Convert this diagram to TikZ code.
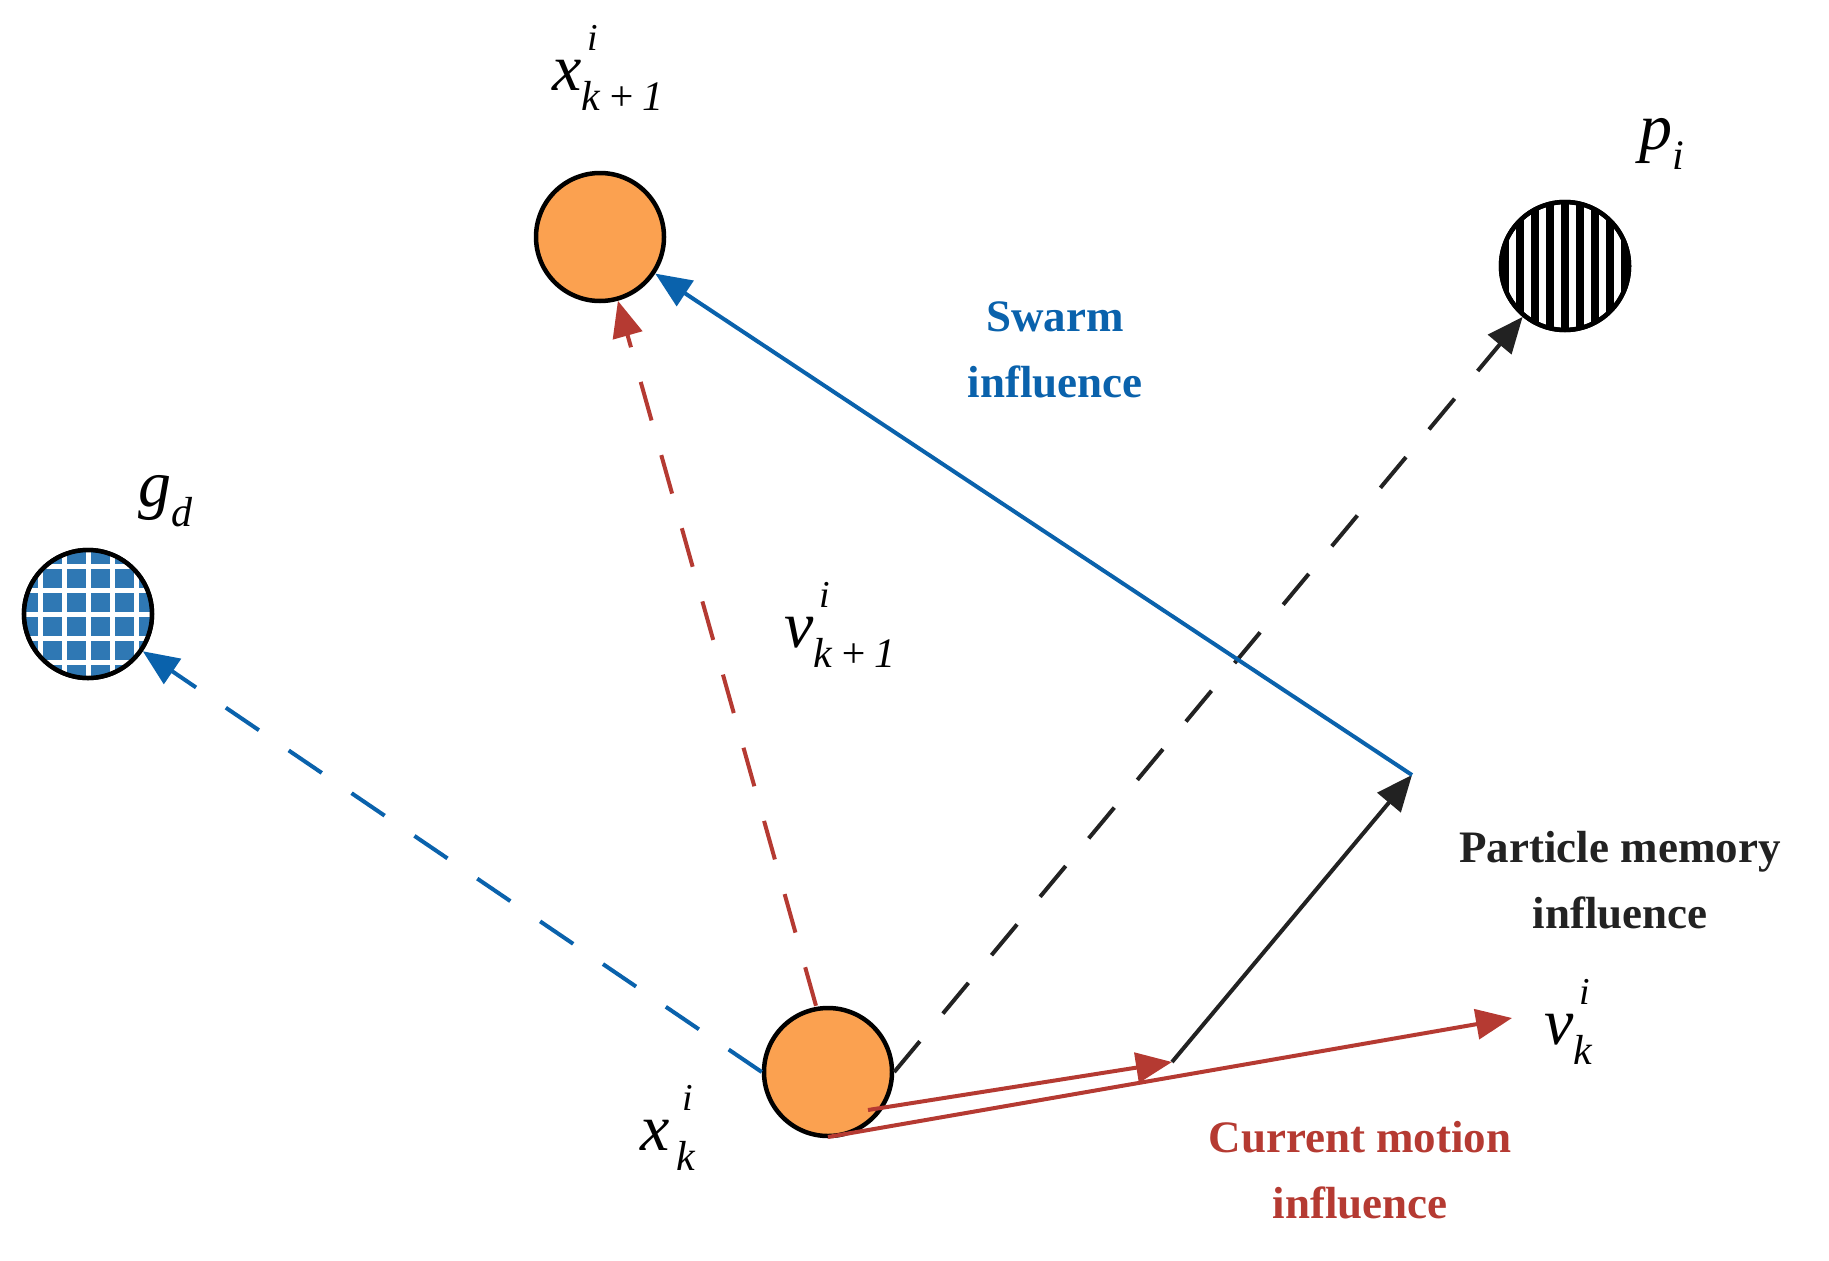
\documentclass[tikz,border=0pt]{standalone}
\usepackage{fontspec}
\setmainfont{Liberation Serif}
\usetikzlibrary{arrows.meta}
\definecolor{bl}{HTML}{0A62AC}
\definecolor{rd}{HTML}{B53A32}
\definecolor{dk}{HTML}{222222}
\definecolor{org}{HTML}{FBA150}
\definecolor{gb}{HTML}{2F78B4}
\newcommand\sy[3]{\textit{#1}\makebox[0pt][l]{\raisebox{0.6em}{\fontsize{38}{38}\selectfont\itshape\,#2}}\raisebox{-0.3em}{\fontsize{42}{42}\selectfont\itshape #3}}
\begin{document}
\begin{tikzpicture}[x=1pt,y=-1pt,
  ball/.style={circle,draw=black,line width=4.5pt,minimum size=128pt,inner sep=0pt},
  tip/.style={-{Triangle[length=36pt,width=30pt]}},
  dsh/.style={dash pattern=on 40pt off 36pt},
  lbl/.style={font=\fontsize{45}{66}\selectfont\bfseries,align=center},
  mth/.style={font=\fontsize{66}{66}\selectfont}]
\useasboundingbox (0,0) rectangle (1829,1261);
% balls
\node[ball,fill=org] (xk1) at (600,237) {};
\node[ball,fill=org] (xk) at (828,1072) {};
\node[ball,fill=white] (pi) at (1565,266) {};
\node[ball,fill=white] (gd) at (88,614) {};
\begin{scope}
\clip (1565,266) circle (64);
\foreach \i in {-4,...,4} \fill[black] (1565+\i*15-4,190) rectangle +(8,160);
\end{scope}
\begin{scope}
\clip (88,614) circle (64);
\fill[gb] (10,530) rectangle (170,700);
\foreach \i in {-5,...,5} {\fill[white] (88+\i*24-2,530) rectangle +(5,170);
  \fill[white] (10,614+\i*24-2) rectangle +(160,5);}
\end{scope}
\node[ball] at (1565,266) {};
\node[ball] at (88,614) {};
% coordinates
\coordinate (m) at (1172,1062);
\coordinate (s) at (1412,775);
\coordinate (vk) at (1512,1018);
\coordinate (a1) at (868,1110);
\coordinate (a0) at (828,1137);
% connectors
\draw[bl,line width=4pt,dsh,tip] (xk.west) -- (gd);
\draw[rd,line width=4pt,dsh,tip] (xk.north) ++(-12,0) -- (xk1);
\draw[dk,line width=4pt,dsh,tip] (xk.east) -- (pi);
\draw[dk,line width=4pt,tip] (m) -- (s);
\draw[bl,line width=4pt,tip] (s) -- (xk1);
\draw[rd,line width=4pt,tip] (a1) -- (m);
\draw[rd,line width=4pt,tip] (a0) -- (vk);
% labels
\node[mth] (lxk1) at (608,68) {\sy{x}{i}{k\,+\,1}};
\node[mth] (lpi) at (1662,140) {\sy{p}{}{i}};
\node[mth] (lgd) at (165,497) {\sy{g}{}{d}};
\node[mth] (lv1) at (840,625) {\sy{v}{i}{k\,+\,1}};
\node[mth] (lxk) at (668,1128) {\sy{x}{\,i}{\,k}};
\node[mth] (lvk) at (1568,1022) {\sy{v}{i}{k}};
\node[lbl,text=bl] (sw) at (1055,350) {Swarm\\influence};
\node[lbl,text=dk] (pm) at (1620,880) {Particle memory\\influence};
\node[lbl,text=rd] (cm) at (1360,1170) {Current motion\\influence};
\end{tikzpicture}
\end{document}
